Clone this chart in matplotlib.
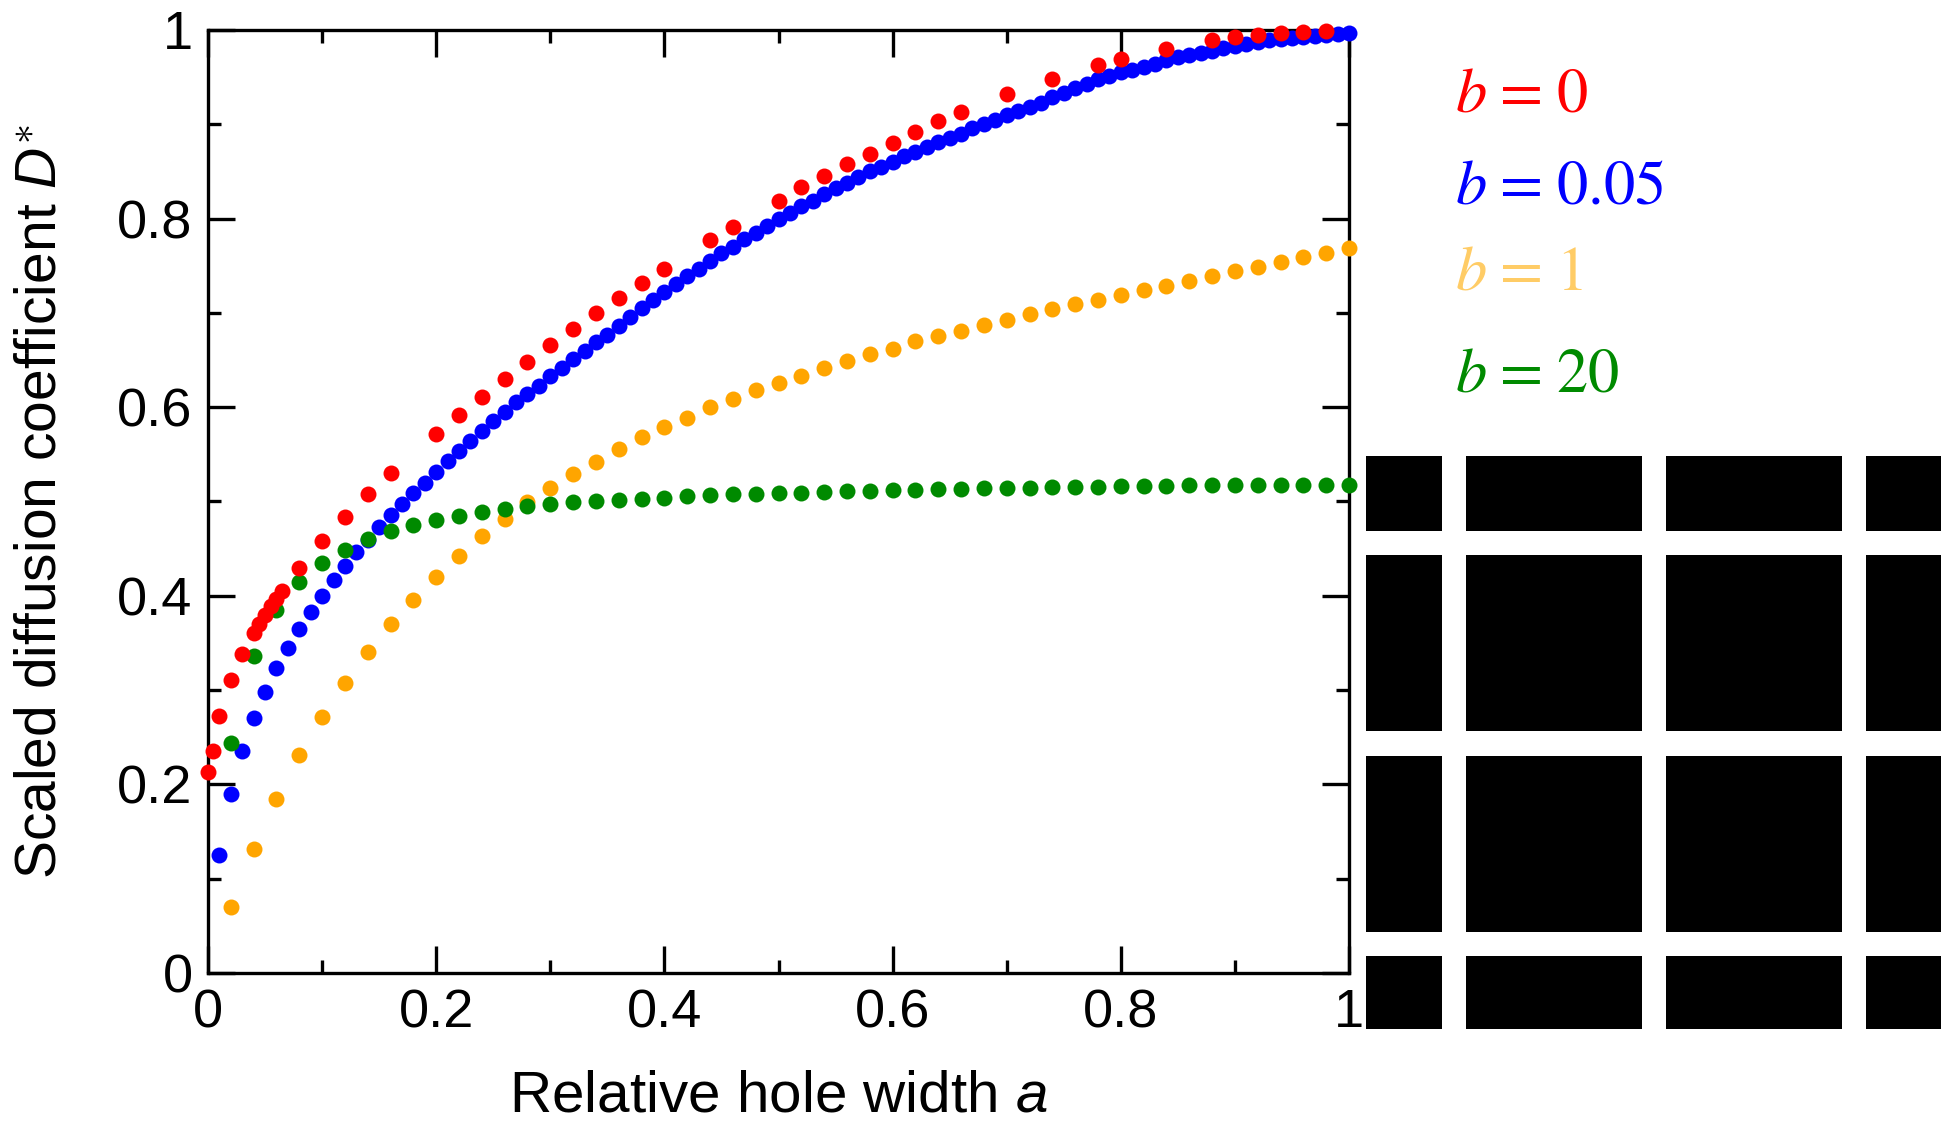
import numpy as np
import matplotlib
matplotlib.use("Agg")
import matplotlib.pyplot as plt
from matplotlib.patches import Rectangle
from matplotlib.ticker import MultipleLocator, FuncFormatter

plt.rcParams["font.family"] = ["Liberation Sans", "DejaVu Sans"]
plt.rcParams["mathtext.fontset"] = "custom"
plt.rcParams["mathtext.rm"] = "Liberation Sans"
plt.rcParams["mathtext.it"] = "Liberation Sans:italic"

# b = 0 (irregular sampling, denser near a = 0)
a_b0 = [0.0, 0.004, 0.01, 0.02, 0.03, 0.04, 0.045, 0.05, 0.055, 0.06, 0.065,
        0.08, 0.10, 0.12, 0.14, 0.16, 0.20, 0.22, 0.24, 0.26, 0.28, 0.30,
        0.32, 0.34, 0.36, 0.38, 0.40, 0.44, 0.46, 0.50, 0.52, 0.54, 0.56,
        0.58, 0.60, 0.62, 0.64, 0.66, 0.70, 0.74, 0.78, 0.80, 0.84, 0.88,
        0.90, 0.92, 0.94, 0.96, 0.98]
D_b0 = [0.213, 0.235, 0.273, 0.311, 0.338, 0.361, 0.370, 0.380, 0.389, 0.397, 0.405,
        0.430, 0.458, 0.484, 0.508, 0.530, 0.572, 0.592, 0.611, 0.630, 0.648, 0.666,
        0.683, 0.700, 0.716, 0.732, 0.747, 0.777, 0.791, 0.819, 0.833, 0.845, 0.858,
        0.869, 0.880, 0.892, 0.903, 0.913, 0.932, 0.948, 0.963, 0.969, 0.980, 0.989,
        0.993, 0.995, 0.997, 0.998, 0.999]

# b = 0.05, a = 0.01 ... 1.00
a_b005 = np.round(np.arange(1, 101) * 0.01, 2)
D_b005 = [0.125, 0.190, 0.235, 0.270, 0.298, 0.323, 0.345, 0.365, 0.383, 0.400,
          0.417, 0.432, 0.446, 0.459, 0.473, 0.486, 0.497, 0.509, 0.520, 0.531,
          0.543, 0.554, 0.564, 0.575, 0.585, 0.595, 0.605, 0.614, 0.623, 0.633,
          0.642, 0.651, 0.660, 0.669, 0.677, 0.686, 0.696, 0.705, 0.714, 0.722,
          0.731, 0.739, 0.747, 0.755, 0.763, 0.770, 0.778, 0.785, 0.792, 0.800,
          0.806, 0.813, 0.819, 0.826, 0.832, 0.838, 0.844, 0.850, 0.855, 0.860,
          0.866, 0.871, 0.876, 0.881, 0.886, 0.890, 0.896, 0.900, 0.905, 0.910,
          0.914, 0.918, 0.923, 0.929, 0.933, 0.938, 0.943, 0.948, 0.951, 0.955,
          0.958, 0.961, 0.964, 0.968, 0.971, 0.974, 0.976, 0.978, 0.981, 0.983,
          0.985, 0.987, 0.989, 0.990, 0.991, 0.993, 0.994, 0.995, 0.996, 0.997]

# b = 1 and b = 20, a = 0.02 ... 1.00
a_even = np.round(np.arange(1, 51) * 0.02, 2)
D_b1 = [0.070, 0.132, 0.184, 0.231, 0.271, 0.308, 0.340, 0.370, 0.396, 0.420,
        0.442, 0.463, 0.481, 0.500, 0.514, 0.529, 0.542, 0.556, 0.568, 0.579,
        0.589, 0.600, 0.609, 0.618, 0.626, 0.633, 0.642, 0.649, 0.656, 0.662,
        0.670, 0.676, 0.681, 0.687, 0.693, 0.699, 0.704, 0.709, 0.714, 0.719,
        0.724, 0.729, 0.734, 0.739, 0.744, 0.749, 0.754, 0.759, 0.764, 0.769]
D_b20 = [0.244, 0.336, 0.385, 0.415, 0.435, 0.449, 0.460, 0.469, 0.475, 0.480,
         0.485, 0.489, 0.492, 0.495, 0.497, 0.499, 0.501, 0.502, 0.503, 0.504,
         0.506, 0.507, 0.508, 0.508, 0.509, 0.509, 0.510, 0.511, 0.511, 0.512,
         0.512, 0.513, 0.513, 0.514, 0.514, 0.514, 0.515, 0.515, 0.515, 0.516,
         0.516, 0.516, 0.517, 0.517, 0.517, 0.517, 0.518, 0.518, 0.518, 0.518]

labels = ["0", "0.05", "1", "20"]
label_colors = ["#ff0000", "#0000ff", "#ffcc66", "#008a00"]
red, blue, orange, green = "#ff0000", "#0000ff", "#ffa500", "#008a00"

fig = plt.figure(figsize=(19.41, 11.22), dpi=100)
W, H = 1941, 1122
ax = fig.add_axes([208 / W, 1 - 973 / H, 1141 / W, 943 / H])

ms = 11.5
ax.plot(a_even, D_b1, "o", color=orange, ms=ms, mew=0, clip_on=False, zorder=3)
ax.plot(a_b005, D_b005, "o", color=blue, ms=ms, mew=0, clip_on=False, zorder=4)
ax.plot(a_even, D_b20, "o", color=green, ms=ms, mew=0, clip_on=False, zorder=5)
ax.plot(a_b0, D_b0, "o", color=red, ms=ms, mew=0, clip_on=False, zorder=6)

ax.set_xlim(0, 1)
ax.set_ylim(0, 1)
for sp in ax.spines.values():
    sp.set_linewidth(2.4)
fmt = FuncFormatter(lambda v, _: f"{v:g}")
for axis in (ax.xaxis, ax.yaxis):
    axis.set_major_locator(MultipleLocator(0.2))
    axis.set_minor_locator(MultipleLocator(0.1))
    axis.set_major_formatter(fmt)
ax.tick_params(which="both", direction="in", top=True, right=True, width=2.4,
               labelsize=39, pad=11)
ax.tick_params(which="major", length=19.5)
ax.tick_params(which="minor", length=9.5)

ax.set_xlabel("Relative hole width $a$", fontsize=42)
ax.set_ylabel(r"Scaled diffusion coefficient $D^{\ast}$", fontsize=41)
ax.xaxis.set_label_coords(0.5, (973 - 1096) / 943)
ax.xaxis.label.set_va("center")
ax.yaxis.set_label_coords((41 - 208) / 1141, 0.5)
ax.yaxis.label.set_va("center")

# legend as coloured text, serif math
for lab, col, base in zip(labels, label_colors, [112, 203, 289, 392]):
    fig.text(1455 / W, 1 - base / H,
             r"$b\hspace{0.1}=\hspace{0.1}%s$" % lab, color=col, fontsize=45,
             math_fontfamily="stix", ha="left", va="baseline")

# lattice of square obstacles
ax2 = fig.add_axes([1366 / W, 1 - 1029 / H, 575 / W, 573 / H])
ax2.set_xlim(0.5, 3.375)
ax2.set_ylim(3.365, 0.505)
ax2.axis("off")
block = 0.88
for i in range(4):
    for j in range(4):
        ax2.add_patch(Rectangle((i, j), block, block, facecolor="black",
                                edgecolor="none"))

fig.savefig("out.png", dpi=100)
